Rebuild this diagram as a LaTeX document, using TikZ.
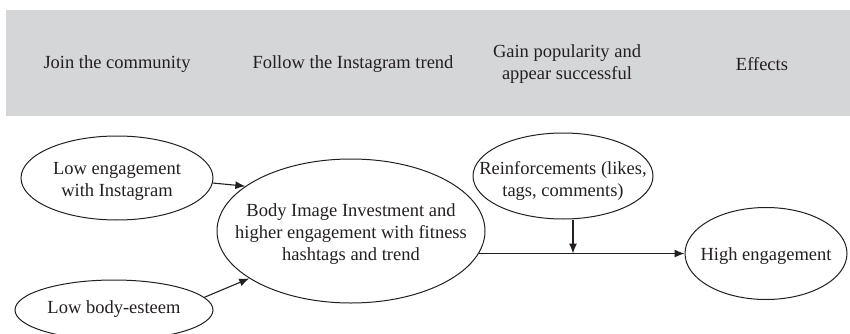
\documentclass[tikz,border=0pt]{standalone}
\usepackage{fontspec}
\setmainfont{Liberation Serif}
\usetikzlibrary{shapes.geometric,arrows.meta,calc}

\definecolor{bandgrey}{RGB}{213,214,216}
\definecolor{ink}{RGB}{35,31,32}

\tikzset{
  bubble/.style={draw=ink, line width=1pt, ellipse, inner sep=0pt},
  label text/.style={text=ink, align=center, inner sep=0pt,
    font=\fontsize{18.5}{22}\selectfont},
  flow/.style={draw=ink, line width=1.1pt, -{Latex[length=10pt,width=8pt]}}
}

\begin{document}
\begin{tikzpicture}[x=1pt, y=-1pt]
  \useasboundingbox (0,0) rectangle (850,334);
  \clip (0,0) rectangle (850,334);

  % heading band with the four stages
  \fill[bandgrey] (6,10) rectangle (850,116);
  \node[label text] (h1) at (117,64) {Join the community};
  \node[label text] (h2) at (353,64) {Follow the Instagram trend};
  \node[label text] (h3) at (567,64) {Gain popularity and\\appear successful};
  \node[label text] (h4) at (762,64) {Effects};

  % ellipses
  \node[bubble, minimum width=192, minimum height=84] (a) at (117,178) {};
  \node[label text] (a-t) at (117,181) {Low engagement\\with Instagram};

  \node[bubble, minimum width=198, minimum height=60] (b) at (114,310) {};
  \node[label text] (b-t) at (114,309) {Low body-esteem};

  \node[bubble, minimum width=268, minimum height=144] (c) at (351,231) {};
  \node[label text] (c-t) at (351,234) {Body Image Investment and\\higher engagement with fitness\\hashtags and trend};

  \node[bubble, minimum width=180, minimum height=86] (d) at (563,176) {};
  \node[label text] (d-t) at (563,181) {Reinforcements (likes,\\tags, comments)};

  \node[bubble, minimum width=162, minimum height=92] (e) at (766,253.5) {};
  \node[label text] (e-t) at (766,256) {High engagement};

  % connectors
  \draw[flow] (a.-3) -- (c.157);
  \draw[flow] (b.8) -- (c.205);
  \draw[flow] (c.-10) -- (c.-10 -| e.west);
  \coordinate (m) at (573,253.5);
  \draw[flow] (m |- d.south) -- (m);
\end{tikzpicture}
\end{document}
